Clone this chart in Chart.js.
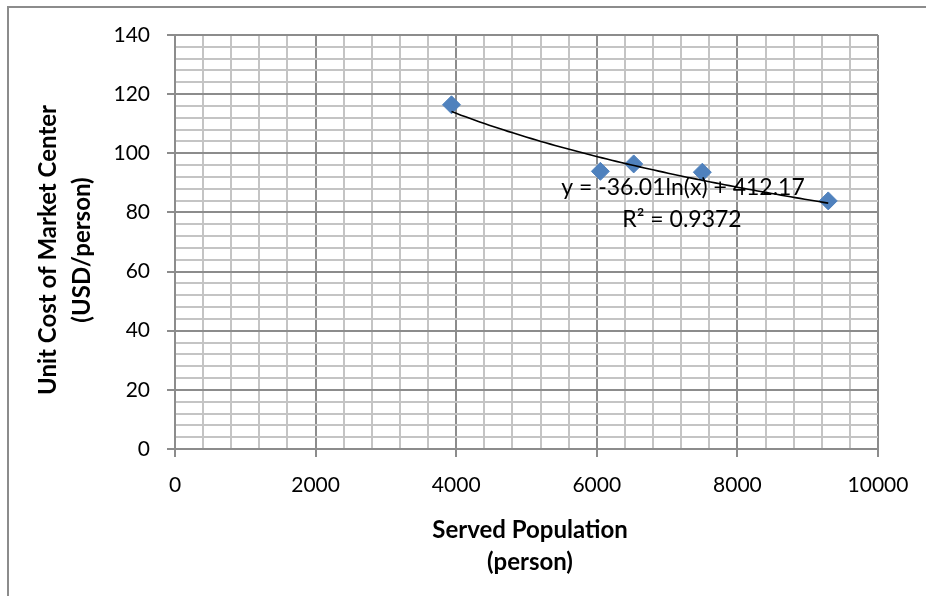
<!DOCTYPE html>
<html>
<head>
<meta charset="utf-8">
<script src="https://cdn.jsdelivr.net/npm/chart.js@4.4.1/dist/chart.umd.min.js"></script>
<style>
  html, body { margin: 0; padding: 0; background: #fff; }
  #wrap { position: relative; width: 926px; height: 596px; overflow: hidden; }
  #frame { position: absolute; left: 7px; top: 6px; width: 940px; height: 620px;
           border-top: 2px solid #8c8c8c; border-left: 2px solid #8c8c8c; pointer-events: none; }
  canvas { position: absolute; left: 0; top: 0; }
</style>
</head>
<body>
<div id="wrap">
  <canvas id="c" width="926" height="596"></canvas>
  <div id="frame"></div>
</div>
<script>
// Served population (person) and unit cost of the market centre (USD/person)
const population = [3933, 6051, 6525, 7501, 9292];
const unitCost   = [116.4, 93.9, 96.4, 93.6, 83.9];

// Logarithmic trendline y = a*ln(x) + b, as printed on the chart
const trendA = -36.01;
const trendB = 412.17;
const trendLabel = ['y = -36.01ln(x) + 412.17', 'R\u00b2 = 0.9372'];

// Axis ticks
const xTicks = [0, 2000, 4000, 6000, 8000, 10000];
const yTicks = [0, 20, 40, 60, 80, 100, 120, 140];
const xTitle = ['Served Population', '(person)'];
const yTitle = ['Unit Cost of Market Center', '(USD/person)'];

const FONT = 'Lato, "Open Sans", sans-serif';
const MAJOR = '#8c8c8c';
const MINOR = '#c4c4c4';

// Trendline spans the observed population range
const xMin = Math.min(...population), xMax = Math.max(...population);
const trendPts = [];
for (let i = 0; i <= 80; i++) {
  const x = xMin + (xMax - xMin) * i / 80;
  trendPts.push({ x, y: trendA * Math.log(x) + trendB });
}

const isMajorX = v => xTicks.includes(Math.round(v));
const isMajorY = v => yTicks.includes(Math.round(v));

const textPlugin = {
  id: 'texts',
  afterDraw(chart) {
    const ctx = chart.ctx;
    ctx.save();
    ctx.fillStyle = '#000';
    ctx.textAlign = 'center';
    ctx.textBaseline = 'middle';
    // trendline equation
    ctx.font = '23px ' + FONT;
    ctx.fillText(trendLabel[0], 683, 188);
    ctx.fillText(trendLabel[1], 682, 220);
    // axis titles
    ctx.font = 'bold 24px ' + FONT;
    ctx.fillText(xTitle[0], 530, 530);
    ctx.fillText(xTitle[1], 530, 562);
    ctx.save();
    ctx.translate(48, 250);
    ctx.rotate(-Math.PI / 2);
    ctx.fillText(yTitle[0], 0, 0);
    ctx.restore();
    ctx.save();
    ctx.translate(82, 250);
    ctx.rotate(-Math.PI / 2);
    ctx.fillText(yTitle[1], 0, 0);
    ctx.restore();
    ctx.restore();
  }
};

new Chart(document.getElementById('c'), {
  type: 'scatter',
  data: {
    datasets: [
      {
        label: 'Unit cost',
        data: population.map((x, i) => ({ x, y: unitCost[i] })),
        pointStyle: 'rectRot',
        pointRadius: 9,
        pointHoverRadius: 9,
        backgroundColor: '#4f81bd',
        borderColor: '#4f81bd',
        borderWidth: 1,
        order: 1
      },
      {
        label: 'Log trend',
        type: 'line',
        data: trendPts,
        borderColor: '#000',
        borderWidth: 1.6,
        pointRadius: 0,
        fill: false,
        tension: 0,
        order: 0
      }
    ]
  },
  options: {
    responsive: false,
    animation: false,
    events: [],
    layout: { padding: { top: 35, right: 48, left: 0, bottom: 0 } },
    plugins: { legend: { display: false }, tooltip: { enabled: false } },
    scales: {
      x: {
        type: 'linear',
        min: 0, max: 10000,
        afterFit: s => { s.height = 147; },
        border: { color: MAJOR, width: 2 },
        grid: {
          color: c => (c.tick && isMajorX(c.tick.value)) ? MAJOR : MINOR,
          lineWidth: 2,
          tickLength: 8,
          tickColor: c => (c.tick && isMajorX(c.tick.value)) ? MAJOR : 'rgba(0,0,0,0)',
          tickWidth: 2
        },
        ticks: {
          stepSize: 400,
          autoSkip: false,
          maxRotation: 0,
          padding: 16,
          color: '#000',
          font: { family: FONT, size: 21 },
          callback: v => isMajorX(v) ? String(Math.round(v)) : ''
        }
      },
      y: {
        type: 'linear',
        min: 0, max: 140,
        afterFit: s => { s.width = 175; },
        border: { color: MAJOR, width: 2 },
        grid: {
          color: c => (c.tick && isMajorY(c.tick.value)) ? MAJOR : MINOR,
          lineWidth: 2,
          tickLength: 8,
          tickColor: c => (c.tick && isMajorY(c.tick.value)) ? MAJOR : 'rgba(0,0,0,0)',
          tickWidth: 2
        },
        ticks: {
          stepSize: 4,
          autoSkip: false,
          padding: 17,
          color: '#000',
          font: { family: FONT, size: 21 },
          callback: v => isMajorY(v) ? String(Math.round(v)) : ''
        }
      }
    }
  },
  plugins: [textPlugin]
});
</script>
</body>
</html>
